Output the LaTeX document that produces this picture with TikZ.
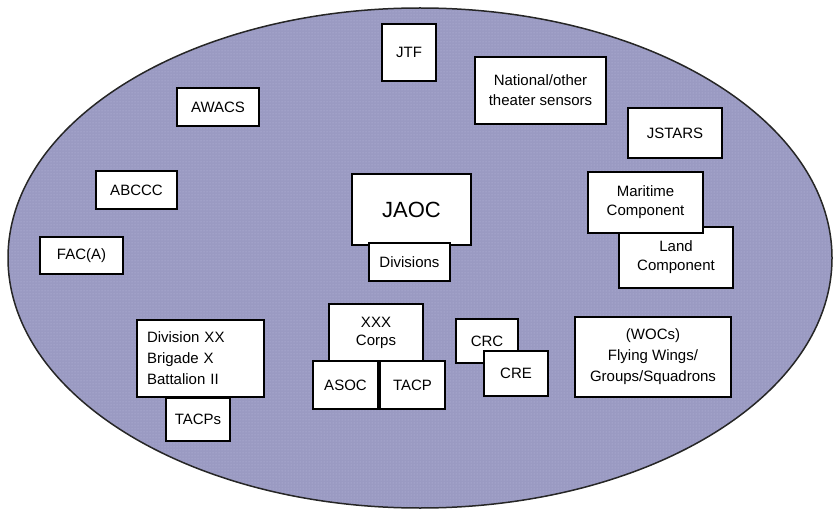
\documentclass[tikz,border=0pt]{standalone}
\usepackage{fontspec}
\setmainfont{Liberation Sans}
\usetikzlibrary{patterns}
\definecolor{ellfill}{RGB}{154,154,194}
\definecolor{elldot}{RGB}{185,185,220}
\begin{document}
\begin{tikzpicture}[x=1pt,y=-1pt,
  box/.style={draw=black, line width=2.2pt, fill=white, inner sep=0pt, align=center,
    font=\fontsize{15}{20}\selectfont},
  bigbox/.style={box, font=\fontsize{22}{24}\selectfont}]
\useasboundingbox (0,0) rectangle (835,513);
\fill[ellfill] (420,258) ellipse [x radius=412pt, y radius=250pt];
\fill[pattern=dots, pattern color=elldot] (420,258) ellipse [x radius=412pt, y radius=250pt];
\draw[line width=1.5pt, black!85] (420,258) ellipse [x radius=412pt, y radius=250pt];

\node[box, minimum width=54pt, minimum height=57pt] (jtf) at (409,52.5) {JTF};
\node[box, minimum width=131pt, minimum height=67pt] (nat) at (540.5,90.5) {National/other\\theater sensors};
\node[box, minimum width=82pt, minimum height=38pt] (awacs) at (218,107) {AWACS};
\node[box, minimum width=81pt, minimum height=38pt] (abccc) at (136.5,190) {ABCCC};
\node[box, minimum width=83pt, minimum height=37pt] (faca) at (81.5,255.5) {FAC(A)};
\node[box, minimum width=94pt, minimum height=50pt] (jstars) at (675,133) {JSTARS};
\node[box, minimum width=114pt, minimum height=61pt, font=\fontsize{15}{19}\selectfont] (land) at (676,257.5) {Land\\Component};
\node[box, minimum width=115pt, minimum height=61pt, font=\fontsize{15}{19}\selectfont] (mar) at (645.5,202.5) {Maritime\\Component};
\node[bigbox, minimum width=119pt, minimum height=71pt] (jaoc) at (411.5,209.5) {JAOC};
\node[box, minimum width=81pt, minimum height=38pt] (div) at (409.5,262) {Divisions};
\node[box, align=left, text width=107pt, inner xsep=10pt, minimum height=77pt, font=\fontsize{15}{21}\selectfont] (divxx) at (200.5,358.5) {Division XX\\Brigade X\\Battalion II};
\node[box, minimum width=64pt, minimum height=43pt] (tacps) at (198,419.5) {TACPs};
\node[box, minimum width=94pt, minimum height=57pt, font=\fontsize{15}{18}\selectfont] (corps) at (376,332.5) {XXX\\Corps};
\node[box, minimum width=65pt, minimum height=48pt] (asoc) at (345.5,385) {ASOC};
\node[box, minimum width=65pt, minimum height=48pt] (tacp) at (412.5,385) {TACP};
\node[box, minimum width=62pt, minimum height=44pt] (crc) at (487,341) {CRC};
\node[box, minimum width=64pt, minimum height=45pt] (cre) at (516,373.5) {CRE};
\node[box, minimum width=156pt, minimum height=80pt, font=\fontsize{15}{21}\selectfont] (wocs) at (653,357) {(WOCs)\\Flying Wings/\\Groups/Squadrons};
\end{tikzpicture}
\end{document}
